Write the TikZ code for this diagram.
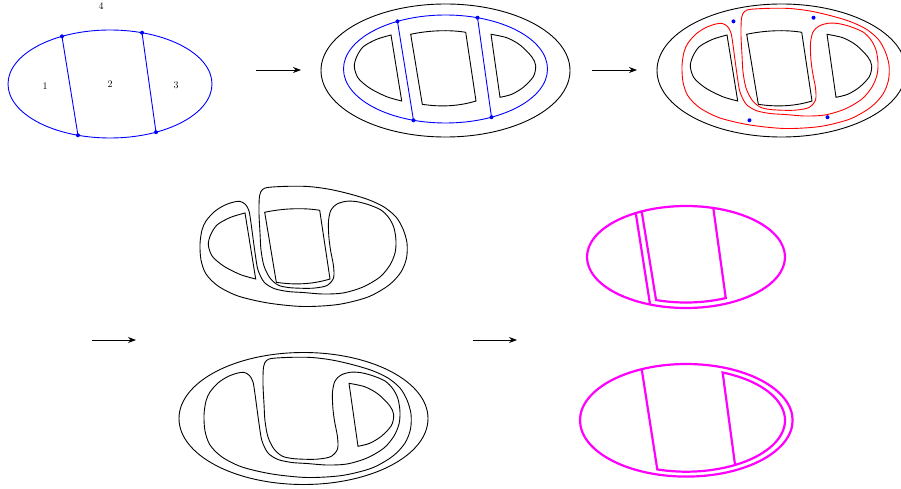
\documentclass[tikz,border=0pt]{standalone}
\usepackage{tikz}
\usetikzlibrary{arrows.meta, positioning, calc}
\definecolor{myblue}{RGB}{0,0,255}
\definecolor{myred}{RGB}{255,0,0}
\definecolor{mymagenta}{RGB}{255,0,255}
\tikzset{
  curve/.style={line width=0.9pt, color=black},
  bluecurve/.style={line width=0.9pt, color=myblue},
  redcurve/.style={line width=0.9pt, color=myred},
  magcurve/.style={line width=2.2pt, color=mymagenta},
  arrow/.style={-{Stealth[length=8pt,width=6pt]}, line width=0.9pt, color=black}
}
% pieces of the second panel
\newcommand{\leftD}{plot[smooth] coordinates {(391,35) (376.7,39.3) (363.3,46.7) (356.7,56.7) (354.3,66.7) (358.3,78.3) (370,88.3) (386.7,96.7) (401.7,101)} -- cycle}
\newcommand{\midpiece}{(410.7,34.3) .. controls (428,30.5) and (449,29.5) .. (465.7,32.3) -- (476,101) .. controls (458,106.5) and (440,107) .. (422.3,104.3) -- cycle}
\newcommand{\rightD}{plot[smooth] coordinates {(491,34.3) (506.7,37.7) (520,45) (531.7,56.7) (535.7,65.7) (533.3,76.7) (523.3,87.3) (511.7,94.3) (500,97.3)} -- cycle}
% band curve of the third panel
\newcommand{\bandcurve}{plot[smooth cycle, tension=0.5] coordinates {
  (721.7,23.3) (727.5,26.5) (731,33) (733,45) (735,60) (737.5,78) (740,92) (746,104) (756,110.5) (770,113.5) (785,114.5) (805,116) (825,115) (845,109) (862,99) (872,87) (877,75)
  (878,63) (876,50) (871,40) (863,32) (850,26.5) (838,23.5) (828.3,23.3) (819,26) (813,32) (810.5,43) (810.8,58)
  (812.5,72) (815.5,88) (815.5,100) (809,107.5) (797,110) (785,110.3) (770,109.5) (760,107) (752,100) (746,88) (743,72)
  (742,55) (741,35) (741.5,18) (744.5,11.5) (751,9.3)
  (770,8.3) (790,8.5) (810,11) (830,15.5) (850,21.5) (866,29) (878,39) (885,51) (889,65)
  (888.5,80) (883,94) (871,107) (850,119) (820,126.5) (785,128.5) (750,125) (720,118) (700,108) (688,96) (683,82) (682,66)
  (684,52) (688,43) (696,34) (705,28) (714,24.5)}}
\newcommand{\chordends}[1]{%
  \coordinate (#1a) at ({110+102*cos(241.9)},{84+54*sin(241.9)});
  \coordinate (#1b) at ({110+102*cos(108.3)},{84+54*sin(108.3)});
  \coordinate (#1c) at ({110+102*cos(288.3)},{84+54*sin(288.3)});
  \coordinate (#1d) at ({110+102*cos(63.2)},{84+54*sin(63.2)});
}

\begin{document}
\begin{tikzpicture}[x=1pt, y=-1pt]
  \useasboundingbox (0,0) rectangle (901,489);

  % Panel 1: disk cut into regions
  \chordends{p}
  \draw[bluecurve] (110,84) ellipse [x radius=102, y radius=54];
  \draw[bluecurve] (pa) -- (pb) (pc) -- (pd);
  \foreach \q in {pa,pb,pc,pd} \fill[myblue] (\q) circle (2pt);
  \node (r4) at (101,6) {4};
  \node (r1) at (45,86) {1};
  \node (r2) at (110,84) {2};
  \node (r3) at (176,85) {3};

  % Panel 2
  \draw[curve] (445.5,70.5) ellipse [x radius=124.5, y radius=66.5];
  \draw[curve] \leftD;
  \draw[curve] \midpiece;
  \draw[curve] \rightD;
  \begin{scope}[shift={(335.5,-15)}]
    \chordends{q}
    \draw[bluecurve] (110,84) ellipse [x radius=102, y radius=54];
    \draw[bluecurve] (qa) -- (qb) (qc) -- (qd);
    \foreach \q in {qa,qb,qc,qd} \fill[myblue] (\q) circle (2pt);
  \end{scope}

  % Panel 3
  \draw[curve] (781.5,70.5) ellipse [x radius=124.5, y radius=66.5];
  \begin{scope}[shift={(336,0)}]
    \draw[curve] \leftD;
    \draw[curve] \midpiece;
    \draw[curve] \rightD;
  \end{scope}
  \draw[redcurve] \bandcurve;
  \begin{scope}[shift={(671.5,-15)}]
    \chordends{s}
    \foreach \q in {sa,sb,sc,sd} \fill[myblue] (\q) circle (2pt);
  \end{scope}

  % Bottom middle: the two pieces
  \begin{scope}[shift={(-146,178)}]
    \draw[curve] \leftD;
    \draw[curve] \midpiece;
  \end{scope}
  \begin{scope}[shift={(-482,178)}]
    \draw[curve] \bandcurve;
  \end{scope}
  \draw[curve] (303.5,418.5) ellipse [x radius=124.5, y radius=66];
  \begin{scope}[shift={(-142,349)}]
    \draw[curve] \rightD;
  \end{scope}
  \begin{scope}[shift={(-478,349)}]
    \draw[curve] \bandcurve;
  \end{scope}

  % Bottom right: magenta pieces
  \draw[magcurve] (686,257) ellipse [x radius=99, y radius=51];
  \coordinate (u1t) at ({686+99*cos(239.5)},{257+51*sin(239.5)});
  \coordinate (u1b) at ({686+99*cos(111.3)},{257+51*sin(111.3)});
  \coordinate (u2t) at ({686+99*cos(243.4)},{257+51*sin(243.4)});
  \coordinate (u3t) at ({686+99*cos(286)},{257+51*sin(286)});
  \draw[magcurve] (u1t) -- (u1b);
  \draw[magcurve] (u2t) -- plot[domain=109:64.4, samples=30] ({686+92*cos(\x)},{257+45.5*sin(\x)}) -- (u3t);

  \draw[magcurve] (686.3,420.3) ellipse [x radius=106.3, y radius=56.3];
  \coordinate (l1t) at ({686.3+106.3*cos(245.2)},{420.3+56.3*sin(245.2)});
  \coordinate (l3b) at ({686.3+98.7*cos(60.4)},{420.3+51.4*sin(60.4)});
  \draw[magcurve] (l1t) -- plot[domain=107.1:-68.4, samples=60] ({686.3+98.7*cos(\x)},{420.3+51.4*sin(\x)}) -- (l3b);

  % Arrows
  \coordinate (a1s) at (256,70);  \coordinate (a1e) at (301,70);
  \coordinate (a2s) at (592,70);  \coordinate (a2e) at (637,70);
  \coordinate (a3s) at (92,340);  \coordinate (a3e) at (136,340);
  \coordinate (a4s) at (473,340); \coordinate (a4e) at (517,340);
  \draw[arrow] (a1s) -- (a1e);
  \draw[arrow] (a2s) -- (a2e);
  \draw[arrow] (a3s) -- (a3e);
  \draw[arrow] (a4s) -- (a4e);
\end{tikzpicture}
\end{document}
